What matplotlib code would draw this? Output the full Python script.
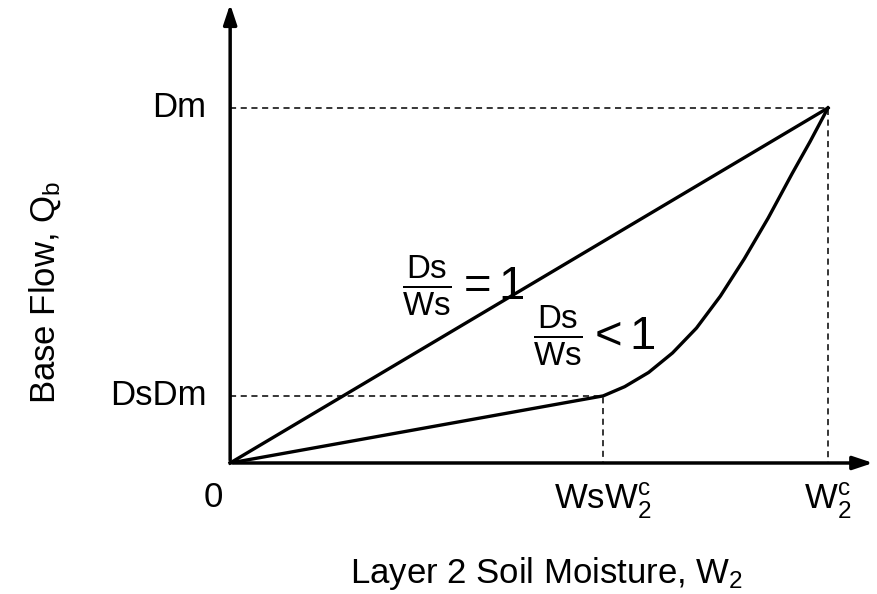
import matplotlib
matplotlib.use("Agg")
import matplotlib.pyplot as plt

plt.rcParams['font.family'] = ['Liberation Sans', 'DejaVu Sans']
plt.rcParams['mathtext.fontset'] = 'custom'
plt.rcParams['mathtext.rm'] = 'Liberation Sans'
plt.rcParams['mathtext.it'] = 'Liberation Sans'
plt.rcParams['mathtext.sf'] = 'Liberation Sans'

Wc = 1.0
WsWc = 0.624
Dm = 1.0
DsDm = 0.189
curve_x = [0.0, WsWc, 0.66, 0.70, 0.74, 0.78, 0.82, 0.86, 0.90, 0.94, 0.97, 1.0]
curve_y = [0.0, DsDm, 0.215, 0.255, 0.31, 0.38, 0.47, 0.575, 0.69, 0.815, 0.905, 1.0]

fig = plt.figure(figsize=(8.77, 5.94), dpi=100)
ax = fig.add_axes([0, 0, 1, 1])
ax.set_xlim(-0.385, 1.082)
ax.set_ylim(-0.369, 1.304)
ax.axis('off')

ax.annotate('', xy=(1.08, 0), xytext=(0, 0),
            arrowprops=dict(arrowstyle='-|>,head_length=1.2,head_width=0.4', lw=2.5, color='black'))
ax.annotate('', xy=(0, 1.30), xytext=(0, 0),
            arrowprops=dict(arrowstyle='-|>,head_length=1.2,head_width=0.4', lw=2.5, color='black'))

ax.plot([0, Wc], [0, Dm], color='black', lw=2.4)
ax.plot(curve_x, curve_y, color='black', lw=2.4, solid_joinstyle='round')
ax.plot([0, Wc, Wc], [Dm, Dm, 0], color='black', lw=1.1, ls=(0, (4, 3)))
ax.plot([0, WsWc, WsWc], [DsDm, DsDm, 0], color='black', lw=1.1, ls=(0, (4, 3)))

fs = 25
ax.text(-0.04, Dm, 'Dm', fontsize=fs, ha='right', va='center')
ax.text(-0.04, DsDm, 'DsDm', fontsize=fs, ha='right', va='center')
ax.text(-0.045, -0.05, '0', fontsize=fs, ha='left', va='top')
ax.text(WsWc, -0.05, r'Ws$\mathrm{W_2^c}$', fontsize=fs, ha='center', va='top')
ax.text(Wc, -0.05, r'$\mathrm{W_2^c}$', fontsize=fs, ha='center', va='top')
ax.text(0.53, -0.31, r'Layer 2 Soil Moisture, $\mathrm{W_2}$', fontsize=fs, ha='center', va='center')
ax.text(-0.31, 0.48, r'Base Flow, $\mathrm{Q_b}$', fontsize=fs, ha='center', va='center', rotation=90)
ax.text(0.39, 0.50, r'$\mathrm{\frac{Ds}{Ws}} = 1$', fontsize=34, ha='center', va='center')
ax.text(0.61, 0.36, r'$\mathrm{\frac{Ds}{Ws}} < 1$', fontsize=34, ha='center', va='center')

fig.savefig('out.png', dpi=100)
